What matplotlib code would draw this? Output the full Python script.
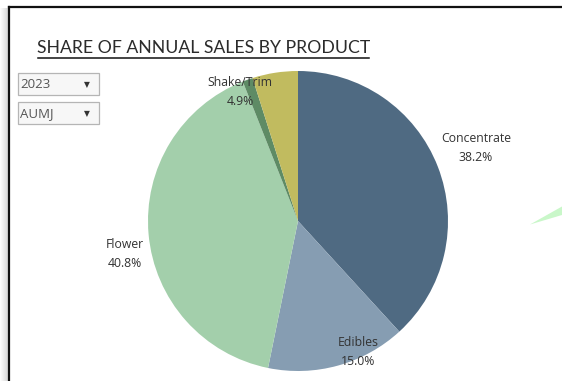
import matplotlib

matplotlib.use("Agg")
import matplotlib.pyplot as plt
from matplotlib.patches import Rectangle, Polygon
from matplotlib.lines import Line2D

# data
products = ["Concentrate", "Edibles", "Flower", "Other", "Shake/Trim"]
shares = [38.2, 15.0, 40.8, 1.1, 4.9]
show_label = [True, True, True, False, True]
colors = ["#4f6a82", "#869db2", "#a3cfab", "#5e8b65", "#c1bb5f"]
# label anchor positions (pie data units)
label_pos = [(1.187, 0.487), (0.40, -0.873), (-1.153, -0.22), (0, 0), (-0.387, 0.86)]

title = "SHARE OF ANNUAL SALES BY PRODUCT"
filter_values = ["2023", "AUMJ"]

W, H = 562, 381
fig = plt.figure(figsize=(W / 100, H / 100), dpi=100)
fig.patch.set_facecolor("white")


def px(x, y):
    """pixel (from top-left) -> figure fraction"""
    return x / W, 1 - y / H


# frame shadow + border
for i in range(8):
    a = 0.015 + 0.03 * i
    fig.patches.append(Rectangle((i / W, 0), 1 / W, 1 - 8 / H,
                                 transform=fig.transFigure, facecolor="#555555",
                                 alpha=a, linewidth=0, zorder=0))
fig.lines.append(Line2D([8.5 / W, 1], [1 - 6.5 / H] * 2, transform=fig.transFigure,
                        color="#111111", linewidth=1.6))
fig.lines.append(Line2D([8.5 / W] * 2, [0, 1 - 6.5 / H], transform=fig.transFigure,
                        color="#111111", linewidth=1.6))

# title
tx, ty = px(37, 48)
fig.text(tx, ty, title, fontsize=12.7, family="Lato", color="#2b2b2b",
         va="center", ha="left")
fig.lines.append(Line2D([38 / W, 369 / W], [1 - 57.5 / H] * 2, transform=fig.transFigure,
                        color="#111111", linewidth=1.1))

# filter dropdowns
for k, val in enumerate(filter_values):
    top = 73 + k * 29
    x0, y0 = px(17.5, top + 22)
    fig.patches.append(Rectangle((x0, y0), 81 / W, 22 / H, transform=fig.transFigure,
                                 facecolor="#f7f7f7", edgecolor="#b5b5b5",
                                 linewidth=0.9))
    fx, fy = px(20, top + 11.5)
    fig.text(fx, fy, val, fontsize=9.5, family="Open Sans", color="#555555",
             va="center", ha="left")
    ax_, ay_ = px(87, top + 11.5)
    fig.text(ax_, ay_, "▼", fontsize=5.5, family="DejaVu Sans", color="#333333",
             va="center", ha="center")

# stray sliver from a neighbouring view at the right edge
fig.patches.append(Polygon([px(530, 224.5), px(562, 206.5), px(562, 215)], closed=True,
                           transform=fig.transFigure, facecolor="#c9f7c9",
                           edgecolor="none"))

# pie
cx, cy, r = 298, 221, 150
ax = fig.add_axes([(cx - r) / W, (H - cy - r) / H, 2 * r / W, 2 * r / H])
ax.pie(shares, colors=colors, startangle=90, counterclock=False, radius=1,
       wedgeprops=dict(linewidth=0))
ax.set_xlim(-1, 1)
ax.set_ylim(-1, 1)
ax.set_aspect("equal")
ax.axis("off")

for name, val, show, (lx, ly) in zip(products, shares, show_label, label_pos):
    if not show:
        continue
    ax.text(lx, ly, f"{name}\n{val:.1f}%", fontsize=8.8, family="Open Sans",
            color="#333333", ha="center", va="center", linespacing=1.65)

fig.savefig("out.png", dpi=100)
